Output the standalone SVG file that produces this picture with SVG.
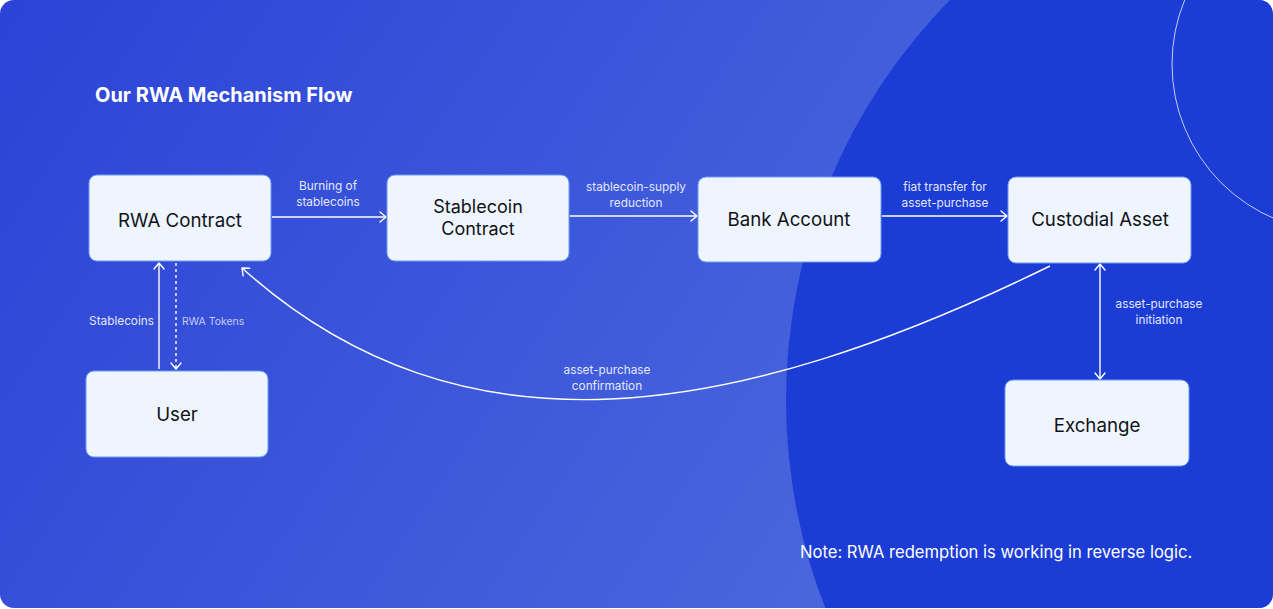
<svg xmlns="http://www.w3.org/2000/svg" width="1273" height="609" viewBox="0 0 1273 609">
  <defs>
    <linearGradient id="bg" x1="0" y1="0" x2="900" y2="609" gradientUnits="userSpaceOnUse">
      <stop offset="0" stop-color="#2b43d7"/>
      <stop offset="1" stop-color="#4b69dd"/>
    </linearGradient>
    <clipPath id="card">
      <rect x="0" y="0" width="1273" height="608" rx="14"/>
    </clipPath>
    <marker id="arr" viewBox="0 0 12 12" refX="10" refY="6" markerWidth="12" markerHeight="12" markerUnits="userSpaceOnUse" orient="auto-start-reverse">
      <path d="M4,1 L10,6 L4,11" fill="none" stroke="#ffffff" stroke-width="1.4" stroke-linecap="round" stroke-linejoin="round"/>
    </marker>
    <style>
      .node rect { fill: #eef5fe; stroke: #6f9bf4; stroke-width: 1; }
      .node text { font-family: Inter, "Noto Sans", sans-serif; font-size: 18.7px; fill: #111318; text-anchor: middle; }
      .node text.two { font-size: 18px; }
      .edge { fill: none; stroke: #ffffff; stroke-width: 1.4; }
      .lbl { font-family: Inter, "Noto Sans", sans-serif; font-size: 11.8px; fill: #e3e7ff; text-anchor: middle; }
      .lbl2 { font-family: Inter, "Noto Sans", sans-serif; font-size: 10.5px; fill: #c4cdf5; }
    </style>
  </defs>

  <rect x="0" y="0" width="1273" height="609" fill="#ffffff"/>
  <g clip-path="url(#card)">
    <rect x="0" y="0" width="1273" height="608" fill="url(#bg)"/>
    <circle cx="1356" cy="400" r="570" fill="#1c3cd6"/>
    <circle cx="1340" cy="64" r="168" fill="none" stroke="#ffffff" stroke-opacity="0.75" stroke-width="1"/>
  </g>

  <text x="95" y="102" font-family="Inter, 'Noto Sans', sans-serif" font-size="20" font-weight="700" fill="#ffffff">Our RWA Mechanism Flow</text>

  <g id="connectors">
    <line class="edge" x1="272" y1="217" x2="386" y2="217" marker-end="url(#arr)"/>
    <text class="lbl" x="328" y="190">Burning of</text>
    <text class="lbl" x="328" y="206">stablecoins</text>

    <line class="edge" x1="570" y1="216" x2="697" y2="216" marker-end="url(#arr)"/>
    <text class="lbl" x="636" y="191">stablecoin-supply</text>
    <text class="lbl" x="636" y="207">reduction</text>

    <line class="edge" x1="882" y1="216" x2="1007" y2="216" marker-end="url(#arr)"/>
    <text class="lbl" x="945" y="191">fiat transfer for</text>
    <text class="lbl" x="945" y="207">asset-purchase</text>

    <line class="edge" x1="159" y1="369" x2="159" y2="263" marker-end="url(#arr)"/>
    <text class="lbl" x="154" y="325" style="text-anchor:end">Stablecoins</text>

    <line class="edge" x1="176" y1="263" x2="176" y2="369" stroke-dasharray="3,3" marker-end="url(#arr)"/>
    <text class="lbl2" x="182" y="325">RWA Tokens</text>

    <path class="edge" d="M1050,266 C736,420 462,466 242,268" marker-end="url(#arr)"/>
    <text class="lbl" x="607" y="374">asset-purchase</text>
    <text class="lbl" x="607" y="390">confirmation</text>

    <line class="edge" x1="1100" y1="264" x2="1100" y2="379" marker-start="url(#arr)" marker-end="url(#arr)"/>
    <text class="lbl" x="1159" y="308">asset-purchase</text>
    <text class="lbl" x="1159" y="324">initiation</text>
  </g>

  <g id="node-rwa" class="node">
    <rect x="89" y="175" width="182" height="86" rx="8"/>
    <text x="180" y="227">RWA Contract</text>
  </g>
  <g id="node-stablecoin" class="node">
    <rect x="387" y="175" width="182" height="86" rx="8"/>
    <text class="two" x="478" y="213">Stablecoin</text>
    <text class="two" x="478" y="235">Contract</text>
  </g>
  <g id="node-bank" class="node">
    <rect x="698" y="177" width="183" height="85" rx="8"/>
    <text x="789" y="226">Bank Account</text>
  </g>
  <g id="node-custodial" class="node">
    <rect x="1008" y="177" width="183" height="86" rx="8"/>
    <text x="1100" y="226">Custodial Asset</text>
  </g>
  <g id="node-user" class="node">
    <rect x="86" y="371" width="182" height="86" rx="8"/>
    <text x="177" y="421">User</text>
  </g>
  <g id="node-exchange" class="node">
    <rect x="1005" y="380" width="184" height="86" rx="8"/>
    <text x="1097" y="432">Exchange</text>
  </g>

  <text x="800" y="558" font-family="Inter, 'Noto Sans', sans-serif" font-size="16.6" fill="#ffffff">Note: RWA redemption is working in reverse logic.</text>
</svg>
